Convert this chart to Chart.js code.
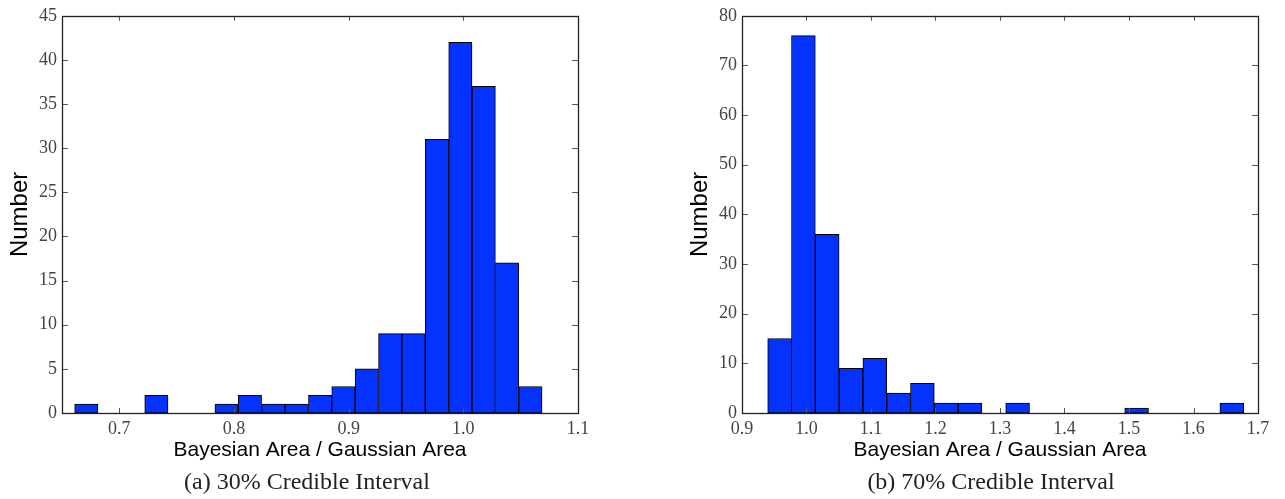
<!DOCTYPE html>
<html>
<head>
<meta charset="utf-8">
<script src="https://cdn.jsdelivr.net/npm/chart.js@4"></script>
<style>
  html, body { margin: 0; padding: 0; background: #fff; }
  body { width: 1285px; height: 499px; position: relative; overflow: hidden; }
  canvas { position: absolute; top: 0; }
  .cap { position: absolute; width: 400px; text-align: center; font-family: "Liberation Serif", serif; font-size: 24px; line-height: 24px; color: #222; }
</style>
</head>
<body>
<canvas id="c1" width="640" height="470" style="left:0px"></canvas>
<canvas id="c2" width="605" height="470" style="left:680px"></canvas>
<div class="cap" style="left:107px; top:469px;">(a) 30% Credible Interval</div>
<div class="cap" style="left:791px; top:469px;">(b) 70% Credible Interval</div>
<script>
// ---- data ----
const binCentersA = [0.6712, 0.6916, 0.7120, 0.7323, 0.7527, 0.7731, 0.7935, 0.8139, 0.8343, 0.8547,
                     0.8751, 0.8954, 0.9158, 0.9362, 0.9566, 0.9770, 0.9974, 1.0178, 1.0382, 1.0585];
const countsA     = [1, 0, 0, 2, 0, 0, 1, 2, 1, 1, 2, 3, 5, 9, 9, 31, 42, 37, 17, 3];

const binCentersB = [0.9583, 0.9952, 1.0321, 1.0690, 1.1059, 1.1428, 1.1797, 1.2166, 1.2535, 1.2904,
                     1.3273, 1.3642, 1.4011, 1.4380, 1.4749, 1.5118, 1.5487, 1.5856, 1.6225, 1.6594];
const countsB     = [15, 76, 36, 9, 11, 4, 6, 2, 2, 0, 2, 0, 0, 0, 0, 1, 0, 0, 0, 2];

const xRangeA = [0.65, 1.1];
const yRangeA = [0, 45];
const yStepA = 5;
const xRangeB = [0.9, 1.7];
const yRangeB = [0, 80];
const yStepB = 10;
const xStep = 0.1;

const xTitle = 'Bayesian Area / Gaussian Area';
const yTitle = 'Number';

// ---- styling ----
const BAR_COLOR = '#0433ff';
const FRAME_COLOR = '#222';
const TICK_COLOR = '#444';

const frameTicksPlugin = {
  id: 'frameTicks',
  afterDatasetsDraw(chart) {
    const ctx = chart.ctx;
    const { left, right, top, bottom } = chart.chartArea;
    const xs = chart.scales.x, ys = chart.scales.y;
    ctx.save();
    ctx.strokeStyle = '#555';
    ctx.lineWidth = 1;
    ctx.beginPath();
    xs.ticks.forEach(t => {
      const p = Math.round(xs.getPixelForValue(t.value)) + 0.5;
      ctx.moveTo(p, bottom); ctx.lineTo(p, bottom - 5);
      ctx.moveTo(p, top); ctx.lineTo(p, top + 5);
    });
    ys.ticks.forEach(t => {
      const p = Math.round(ys.getPixelForValue(t.value)) + 0.5;
      ctx.moveTo(left, p); ctx.lineTo(left + 6, p);
      ctx.moveTo(right, p); ctx.lineTo(right - 6, p);
    });
    ctx.stroke();
    ctx.strokeStyle = FRAME_COLOR;
    ctx.lineWidth = 1.3;
    ctx.strokeRect(Math.round(left) + 0.5, Math.round(top) + 0.5, Math.round(right - left), Math.round(bottom - top));
    ctx.restore();
  }
};

function makeChart(id, centers, counts, xRange, yRange, yStep, canvasW) {
  const canvasH = 470;
  const plotLeft = 62, plotRight = 578, plotTop = 14, plotBottom = 413;
  return new Chart(document.getElementById(id), {
    type: 'bar',
    data: {
      datasets: [{
        data: centers.map((c, i) => ({ x: c, y: counts[i] })),
        backgroundColor: (c) => (c.raw && c.raw.y > 0 ? BAR_COLOR : 'rgba(0,0,0,0)'),
        borderColor: '#000',
        borderWidth: (c) => (c.raw && c.raw.y > 0 ? 1 : 0),
        borderSkipped: false,
        barPercentage: 1.0,
        categoryPercentage: 1.0
      }]
    },
    options: {
      responsive: false,
      animation: false,
      events: [],
      layout: { padding: { top: plotTop, right: canvasW - plotRight, left: 0, bottom: 0 } },
      plugins: { legend: { display: false }, tooltip: { enabled: false } },
      scales: {
        x: {
          type: 'linear',
          offset: false,
          min: xRange[0], max: xRange[1],
          grid: { display: false, drawTicks: false, offset: false },
          border: { display: false },
          ticks: {
            stepSize: xStep,
            includeBounds: false,
            autoSkip: false,
            maxRotation: 0,
            padding: 5,
            color: TICK_COLOR,
            font: { family: 'Liberation Serif', size: 18 },
            callback: (v) => Number(v).toFixed(1)
          },
          title: {
            display: true, text: xTitle, color: '#000',
            font: { family: 'Liberation Sans', size: 21 },
            padding: { top: 0, bottom: 7 }
          },
          afterFit: (s) => { s.height = canvasH - plotBottom; }
        },
        y: {
          min: yRange[0], max: yRange[1],
          grid: { display: false, drawTicks: false },
          border: { display: false },
          ticks: {
            stepSize: yStep,
            padding: 5,
            color: TICK_COLOR,
            font: { family: 'Liberation Serif', size: 18 }
          },
          title: {
            display: true, text: yTitle, color: '#000',
            font: { family: 'Liberation Sans', size: 24 },
            padding: { top: 6, bottom: 0 }
          },
          afterFit: (s) => { s.width = plotLeft; }
        }
      }
    },
    plugins: [frameTicksPlugin]
  });
}

makeChart('c1', binCentersA, countsA, xRangeA, yRangeA, yStepA, 640);
makeChart('c2', binCentersB, countsB, xRangeB, yRangeB, yStepB, 605);
</script>
</body>
</html>
